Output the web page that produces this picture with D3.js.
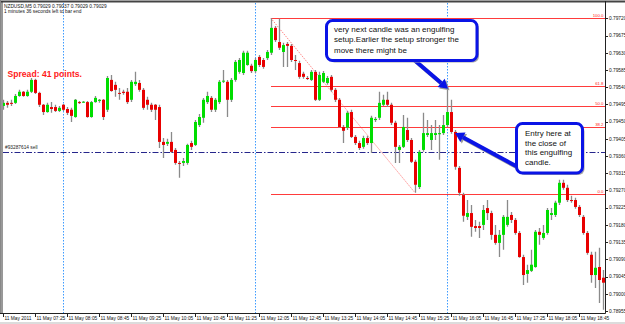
<!DOCTYPE html>
<html><head><meta charset="utf-8">
<script src="https://cdn.jsdelivr.net/npm/d3@7"></script>
<style>html,body{margin:0;padding:0;background:#fff;overflow:hidden}</style>
</head><body>
<script>
// ---- data (NZDUSD M5, 11 May 2011, bars from 06:45) ----
const openP = [
0.79491,0.79499,0.79499,0.79499,0.79517,0.79528,0.79517,0.79528,0.79559,0.79525,
0.79494,0.79475,0.79488,0.79488,0.79478,0.79494,0.79483,0.79481,0.79462,0.79501,
0.79501,0.79501,0.79462,0.79501,0.79504,0.79507,0.79481,0.79559,0.79546,0.79525,
0.79528,0.79528,0.79507,0.79548,0.79551,0.79533,0.79507,0.79494,0.79494,0.79488,
0.79397,0.79392,0.79397,0.79376,0.79342,0.79342,0.79342,0.79394,0.79389,0.79441,
0.79460,0.79501,0.79512,0.79481,0.79501,0.79556,0.79554,0.79507,0.79559,0.79580,
0.79577,0.79598,0.79596,0.79582,0.79619,0.79611,0.79616,0.79630,0.79695,0.79658,
0.79632,0.79653,0.79648,0.79611,0.79603,0.79575,0.79564,0.79559,0.79580,0.79507,
0.79554,0.79551,0.79567,0.79533,0.79507,0.79436,0.79434,0.79475,0.79410,0.79394,
0.79384,0.79407,0.79394,0.79454,0.79460,0.79494,0.79507,0.79494,0.79447,0.79376,
0.79384,0.79428,0.79402,0.79345,0.79279,0.79376,0.79415,0.79402,0.79415,0.79417,
0.79420,0.79441,0.79475,0.79423,0.79329,0.79258,0.79201,0.79211,0.79177,0.79177,
0.79180,0.79224,0.79211,0.79154,0.79133,0.79154,0.79180,0.79206,0.79193,0.79159,
0.79096,0.79052,0.79060,0.79070,0.79162,0.79146,0.79159,0.79206,0.79206,0.79238,
0.79290,0.79277,0.79245,0.79245,0.79227,0.79201,0.79159,0.79102,0.79049,0.79070,
0.79042];
const highP = [
0.79507,0.79504,0.79507,0.79522,0.79533,0.79530,0.79533,0.79564,0.79562,0.79528,
0.79496,0.79499,0.79501,0.79494,0.79491,0.79496,0.79488,0.79486,0.79509,0.79504,
0.79504,0.79504,0.79504,0.79517,0.79509,0.79509,0.79569,0.79572,0.79554,0.79538,
0.79533,0.79538,0.79559,0.79580,0.79559,0.79538,0.79515,0.79499,0.79496,0.79494,
0.79407,0.79405,0.79423,0.79381,0.79347,0.79355,0.79392,0.79400,0.79454,0.79470,
0.79512,0.79528,0.79517,0.79512,0.79559,0.79585,0.79559,0.79564,0.79611,0.79616,
0.79635,0.79635,0.79601,0.79616,0.79624,0.79616,0.79637,0.79720,0.79700,0.79719,
0.79656,0.79658,0.79653,0.79624,0.79609,0.79580,0.79569,0.79585,0.79585,0.79580,
0.79582,0.79569,0.79572,0.79538,0.79512,0.79441,0.79478,0.79481,0.79415,0.79400,
0.79413,0.79413,0.79465,0.79462,0.79528,0.79520,0.79528,0.79499,0.79452,0.79389,
0.79467,0.79460,0.79407,0.79350,0.79376,0.79473,0.79454,0.79441,0.79454,0.79441,
0.79467,0.79541,0.79507,0.79428,0.79334,0.79264,0.79245,0.79232,0.79193,0.79188,
0.79232,0.79245,0.79217,0.79180,0.79167,0.79206,0.79245,0.79214,0.79198,0.79164,
0.79102,0.79076,0.79115,0.79167,0.79172,0.79180,0.79224,0.79224,0.79243,0.79298,
0.79298,0.79285,0.79256,0.79251,0.79232,0.79206,0.79164,0.79110,0.79110,0.79120,
0.79062];
const lowP = [
0.79481,0.79486,0.79491,0.79496,0.79515,0.79515,0.79515,0.79525,0.79522,0.79488,
0.79467,0.79473,0.79473,0.79475,0.79475,0.79478,0.79467,0.79449,0.79460,0.79496,
0.79499,0.79460,0.79460,0.79499,0.79499,0.79454,0.79475,0.79528,0.79515,0.79507,
0.79520,0.79496,0.79501,0.79543,0.79528,0.79481,0.79481,0.79475,0.79454,0.79381,
0.79355,0.79386,0.79368,0.79337,0.79303,0.79334,0.79337,0.79376,0.79386,0.79436,
0.79447,0.79496,0.79475,0.79475,0.79496,0.79551,0.79462,0.79501,0.79554,0.79575,
0.79572,0.79596,0.79577,0.79577,0.79593,0.79588,0.79611,0.79624,0.79658,0.79637,
0.79593,0.79593,0.79606,0.79585,0.79562,0.79562,0.79559,0.79556,0.79504,0.79504,
0.79551,0.79546,0.79528,0.79501,0.79434,0.79394,0.79428,0.79407,0.79389,0.79376,
0.79379,0.79389,0.79368,0.79449,0.79454,0.79491,0.79488,0.79441,0.79342,0.79342,
0.79381,0.79397,0.79342,0.79264,0.79274,0.79371,0.79410,0.79376,0.79402,0.79350,
0.79415,0.79436,0.79418,0.79324,0.79256,0.79188,0.79193,0.79149,0.79162,0.79146,
0.79167,0.79193,0.79141,0.79128,0.79096,0.79115,0.79175,0.79185,0.79154,0.79094,
0.79023,0.79029,0.79057,0.79068,0.79128,0.79141,0.79154,0.79193,0.79201,0.79232,
0.79272,0.79240,0.79238,0.79222,0.79201,0.79154,0.79102,0.79029,0.79015,0.78976,
0.78958];
const closeP = [
0.79499,0.79494,0.79498,0.79517,0.79528,0.79517,0.79528,0.79559,0.79525,0.79494,
0.79475,0.79494,0.79483,0.79478,0.79486,0.79481,0.79473,0.79465,0.79507,0.79500,
0.79502,0.79462,0.79501,0.79512,0.79507,0.79462,0.79564,0.79530,0.79533,0.79524,
0.79525,0.79501,0.79554,0.79554,0.79533,0.79486,0.79494,0.79481,0.79481,0.79397,
0.79389,0.79397,0.79371,0.79342,0.79341,0.79347,0.79389,0.79384,0.79449,0.79462,
0.79507,0.79517,0.79481,0.79507,0.79554,0.79557,0.79507,0.79559,0.79606,0.79611,
0.79630,0.79630,0.79582,0.79611,0.79598,0.79593,0.79632,0.79695,0.79663,0.79643,
0.79650,0.79648,0.79611,0.79610,0.79567,0.79567,0.79563,0.79580,0.79507,0.79572,
0.79577,0.79564,0.79533,0.79507,0.79436,0.79426,0.79473,0.79410,0.79394,0.79381,
0.79407,0.79394,0.79460,0.79457,0.79499,0.79507,0.79494,0.79447,0.79384,0.79384,
0.79436,0.79402,0.79345,0.79285,0.79371,0.79420,0.79420,0.79420,0.79420,0.79420,
0.79441,0.79475,0.79423,0.79332,0.79264,0.79204,0.79211,0.79175,0.79172,0.79172,
0.79219,0.79211,0.79154,0.79133,0.79154,0.79201,0.79201,0.79193,0.79159,0.79096,
0.79049,0.79062,0.79076,0.79162,0.79154,0.79159,0.79219,0.79211,0.79238,0.79290,
0.79277,0.79245,0.79244,0.79227,0.79206,0.79159,0.79107,0.79049,0.79068,0.79036,
0.79029];
const priceTicks = [0.79720,0.79675,0.79630,0.79585,0.79540,0.79495,0.79450,0.79405,0.79360,
  0.79315,0.79270,0.79225,0.79180,0.79135,0.79090,0.79045,0.79000,0.78955];
const firstBar = "2011-05-11T06:45:00Z";
const barMinutes = 5;
const labelEvery = 8;            // one time label every 8 bars (40 min)
const separatorTimes = ["2011-05-11T08:00:00Z","2011-05-11T12:00:00Z","2011-05-11T16:00:00Z"];
const fibLevels = [100.0, 61.8, 50.0, 38.2, 0.0];
const fibHigh = 0.79720, fibLow = 0.79260;
const fibStartBar = 67;
const trendFrom = {bar: 67, price: 0.79720}, trendTo = {bar: 103, price: 0.79264};
const orderPrice = 0.79371, orderLabel = "#93287614 sell";
const titleLine1 = "NZDUSD,M5  0.79029 0.79037 0.79029 0.79029";
const titleLine2 = "1 minutes 36 seconds left to bar end";
const spreadText = "Spread: 41 points.";
const note1 = ["very next candle was an engulfing","setup.Earlier the setup stronger the","move there might be"];
const note2 = ["Entry here at","the close of","this engulfing","candle."];

// ---- drawing ----
const W = 625, H = 324;
const L = 3, R = 605.5, T = 3, B = 313.5;
const svg = d3.select("body").append("svg").attr("width", W).attr("height", H)
  .style("font-family", "'Liberation Sans', Arial, sans-serif");

const start = new Date(firstBar);
const times = openP.map((d, i) => d3.utcMinute.offset(start, barMinutes * i));
const bars = openP.map((o, i) => ({t: times[i], o, h: highP[i], l: lowP[i], c: closeP[i], i}));

const x = d3.scaleUtc().domain([times[0], times[times.length - 1]]).range([3, 603]);
const y = d3.scaleLinear().domain([0.78955, 0.79720]).range([311, 18.3]);

svg.append("defs").append("clipPath").attr("id", "plot")
  .append("rect").attr("x", L).attr("y", T).attr("width", R - L).attr("height", B - T);

const plot = svg.append("g").attr("clip-path", "url(#plot)");

// period separators
plot.selectAll(".sep").data(separatorTimes.map(s => new Date(s))).join("rect")
  .attr("x", d => Math.round(x(d))).attr("width", 1)
  .attr("y", T).attr("height", B - T)
  .attr("fill", "url(#dots)");
const pat = svg.select("defs").append("pattern").attr("id", "dots")
  .attr("patternUnits", "userSpaceOnUse").attr("width", 1).attr("height", 3);
pat.append("rect").attr("width", 1).attr("height", 1.5).attr("fill", "#3d9bff");

// order line
plot.append("line").attr("x1", L).attr("x2", R)
  .attr("y1", Math.round(y(orderPrice)) + 0.5).attr("y2", Math.round(y(orderPrice)) + 0.5)
  .attr("stroke", "#26268c").attr("stroke-width", 1).attr("stroke-dasharray", "6,2,1.5,2");
svg.append("text").attr("x", 5).attr("y", y(orderPrice) - 2.5)
  .attr("font-size", 4.8).attr("fill", "#222").text(orderLabel);

// fib levels
const fx0 = x(times[fibStartBar]);
const fibG = plot.append("g");
fibLevels.forEach(lv => {
  const p = fibLow + (fibHigh - fibLow) * lv / 100;
  const yy = Math.round(y(p)) + 0.5;
  fibG.append("line").attr("x1", fx0).attr("x2", R).attr("y1", yy).attr("y2", yy)
    .attr("stroke", "#ff3b3b").attr("stroke-width", 1);
  fibG.append("text").attr("x", 603.5).attr("y", yy - 1.2).attr("text-anchor", "end")
    .attr("font-size", 4.3).attr("fill", "#ff2020").text(lv.toFixed(1));
});

// trend line
plot.append("line")
  .attr("x1", x(times[trendFrom.bar])).attr("y1", y(trendFrom.price))
  .attr("x2", x(times[trendTo.bar])).attr("y2", y(trendTo.price))
  .attr("stroke", "#ff5050").attr("stroke-width", 1).attr("stroke-dasharray", "1,1.6");

// candles
const cg = plot.append("g");
cg.selectAll(".wick").data(bars).join("line")
  .attr("x1", d => Math.round(x(d.t)) + 0.5).attr("x2", d => Math.round(x(d.t)) + 0.5)
  .attr("y1", d => y(d.h)).attr("y2", d => y(d.l))
  .attr("stroke", "#8a8a8a").attr("stroke-width", 1.3);
cg.selectAll(".body").data(bars).join("rect")
  .attr("x", d => Math.round(x(d.t)) - 1)
  .attr("width", 3)
  .attr("y", d => y(Math.max(d.o, d.c)))
  .attr("height", d => Math.max(1, Math.abs(y(d.o) - y(d.c))))
  .attr("fill", d => d.c > d.o ? "#00dd00" : d.c < d.o ? "#e80000" : "#222");

// frame & axes
svg.append("line").attr("x1", 0).attr("x2", W).attr("y1", 1.5).attr("y2", 1.5).attr("stroke", "#444").attr("stroke-width", 2);
svg.append("line").attr("x1", 0.5).attr("x2", 0.5).attr("y1", 0).attr("y2", B).attr("stroke", "#888");
svg.append("line").attr("x1", 2).attr("x2", 2).attr("y1", 1).attr("y2", B).attr("stroke", "#333");
svg.append("line").attr("x1", R).attr("x2", R).attr("y1", 1).attr("y2", B).attr("stroke", "#222");
svg.append("line").attr("x1", 0).attr("x2", R).attr("y1", B).attr("y2", B).attr("stroke", "#222");

// price axis
const pa = svg.append("g");
pa.selectAll("line").data(priceTicks).join("line")
  .attr("x1", R).attr("x2", R + 2.5)
  .attr("y1", d => Math.round(y(d)) + 0.5).attr("y2", d => Math.round(y(d)) + 0.5)
  .attr("stroke", "#222");
pa.selectAll("text").data(priceTicks).join("text")
  .attr("x", R + 3.5).attr("y", d => y(d) + 1.8)
  .attr("font-size", 4.8).attr("fill", "#111").text(d => d.toFixed(5));

// time axis
const labelBars = bars.filter(d => d.i % labelEvery === 0);
const fmtT = d3.utcFormat("%-d %b %H:%M"), fmtD = d3.utcFormat("%-d %b %Y");
const ta = svg.append("g");
ta.selectAll("line").data(labelBars).join("line")
  .attr("x1", d => Math.round(x(d.t)) + 0.5).attr("x2", d => Math.round(x(d.t)) + 0.5)
  .attr("y1", B).attr("y2", B + 3.5).attr("stroke", "#222");
ta.selectAll("text").data(labelBars).join("text")
  .attr("x", d => Math.round(x(d.t)) + 1.5).attr("y", 320)
  .attr("font-size", 4.8).attr("fill", "#111")
  .text(d => d.i === 0 ? fmtD(d.t) : fmtT(d.t));
svg.append("rect").attr("x", 0).attr("y", 322).attr("width", W).attr("height", 2).attr("fill", "#dcdcdc");

// header texts
svg.append("text").attr("x", 4).attr("y", 7.6).attr("font-size", 4.8).attr("fill", "#111").text(titleLine1);
svg.append("text").attr("x", 4).attr("y", 12.6).attr("font-size", 4.8).attr("fill", "#111").text(titleLine2);
svg.append("text").attr("x", 7.5).attr("y", 76.5).attr("font-size", 8.6).attr("font-weight", "bold")
  .attr("fill", "#ff1a1a").text(spreadText);

// callouts
function arrow(g, x1, y1, x2, y2) {
  const dx = x2 - x1, dy = y2 - y1, len = Math.hypot(dx, dy);
  const ux = dx / len, uy = dy / len, nx = -uy, ny = ux;
  const hl = 9, hw = 5.5;
  const bx = x2 - ux * hl, by = y2 - uy * hl;
  const draw = (off, col) => {
    g.append("line").attr("x1", x1 + off).attr("y1", y1 + off).attr("x2", bx + off).attr("y2", by + off)
      .attr("stroke", col).attr("stroke-width", 4);
    g.append("path").attr("d", `M${x2 + off},${y2 + off}L${bx + nx * hw + off},${by + ny * hw + off}L${bx - nx * hw + off},${by - ny * hw + off}Z`)
      .attr("fill", col);
  };
  draw(1.5, "#9a9a9a");
  draw(0, "#0a14e6");
}
function box(g, bx, by, bw, bh, lines, tx, ty0, lh) {
  g.append("rect").attr("x", bx + 2).attr("y", by + 2).attr("width", bw).attr("height", bh).attr("rx", 6)
    .attr("fill", "#a8a8a8");
  g.append("rect").attr("x", bx).attr("y", by).attr("width", bw).attr("height", bh).attr("rx", 6)
    .attr("fill", "#fff").attr("stroke", "#0a14e6").attr("stroke-width", 3);
  lines.forEach((t, k) => g.append("text").attr("x", tx).attr("y", ty0 + k * lh)
    .attr("font-size", 8).attr("fill", "#111").text(t));
}
const ann = svg.append("g");
const engulf = bars[111], entry = bars[112];
arrow(ann, 412, 58, x(engulf.t) + 1, y(engulf.h) + 2);
box(ann, 326.5, 20.5, 150.5, 40, note1, 334, 32, 10.4);
arrow(ann, 516, 166, x(entry.t) + 4, y(entry.c) + 1);
box(ann, 516.5, 123.5, 66, 49.5, note2, 525, 135.6, 9.9);
</script>
</body></html>
